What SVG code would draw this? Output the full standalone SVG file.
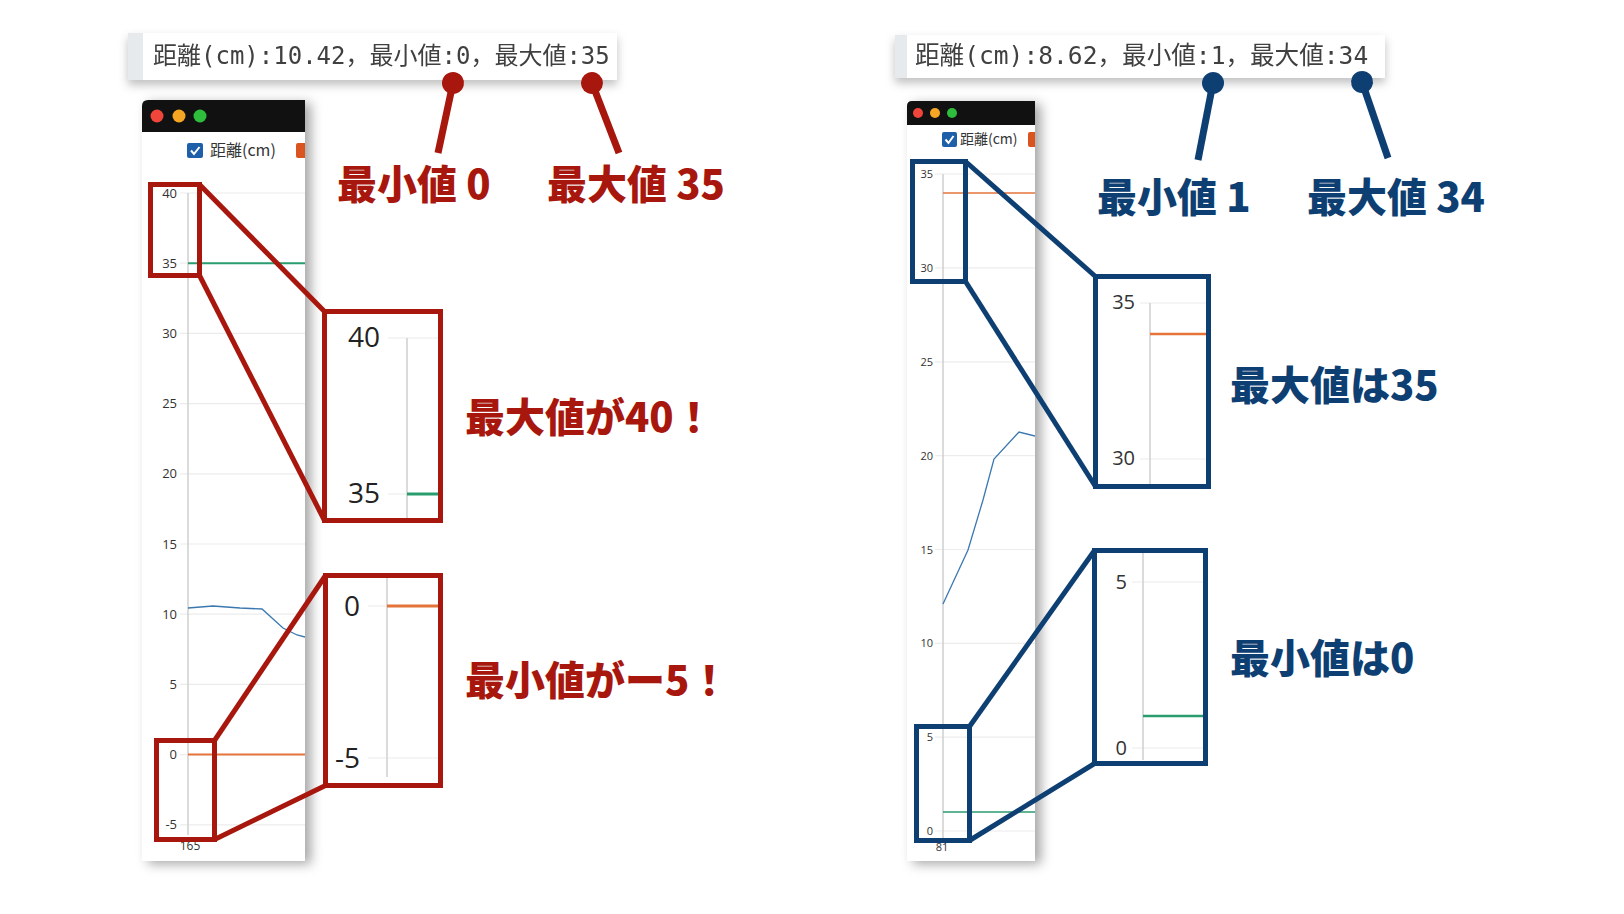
<svg xmlns="http://www.w3.org/2000/svg" width="1624" height="914" viewBox="0 0 1624 914">
<style>
.hdr{font-family:"DejaVu Sans Mono","Noto Sans CJK JP",monospace;font-size:24px;fill:#3f3f3f}
.tick{font-family:"Open Sans","Noto Sans",sans-serif;fill:#333;text-anchor:end}
.zt{font-family:"Open Sans","Noto Sans",sans-serif;fill:#222;text-anchor:end}
.leg{font-family:"Noto Sans CJK JP",sans-serif;fill:#333}
.big{font-family:"Noto Sans CJK JP",sans-serif;font-weight:900;font-size:40px}
.red{fill:#a8170d}
.blue{fill:#0e3f72}
.grid{stroke:#ececec;stroke-width:1.2}
.axis{stroke:#cfcfcf;stroke-width:1.5}
.rbox{fill:none;stroke:#a8170d;stroke-width:5}
.bbox{fill:none;stroke:#0e3f72;stroke-width:5}
.rline{stroke:#a8170d;stroke-width:5;fill:none}
.bline{stroke:#0e3f72;stroke-width:5;fill:none}
.rlead{stroke:#a8170d;stroke-width:7;fill:none;marker-start:url(#rdot)}
.blead{stroke:#0e3f72;stroke-width:7;fill:none;marker-start:url(#bdot)}
.green{stroke:#2a9d6f;fill:none}
.orange{stroke:#e4743a;fill:none}
.bluel{stroke:#3b78b0;stroke-width:1.3;fill:none}
</style>
<defs>
<filter id="sh" x="-20%" y="-5%" width="150%" height="115%">
<feDropShadow dx="6" dy="3" stdDeviation="6" flood-color="#000" flood-opacity="0.35"/>
</filter>
<filter id="hsh" x="-5%" y="-30%" width="110%" height="190%">
<feDropShadow dx="0" dy="5" stdDeviation="5" flood-color="#000" flood-opacity="0.25"/>
</filter>
<marker id="rdot" markerUnits="userSpaceOnUse" markerWidth="24" markerHeight="24" refX="12" refY="12" orient="auto">
<circle cx="12" cy="12" r="11" fill="#a8170d"/>
</marker>
<marker id="bdot" markerUnits="userSpaceOnUse" markerWidth="24" markerHeight="24" refX="12" refY="12" orient="auto">
<circle cx="12" cy="12" r="11" fill="#0e3f72"/>
</marker>
<clipPath id="cl"><rect x="142" y="100" width="163" height="761"/></clipPath>
<clipPath id="cr"><rect x="907" y="101" width="128" height="760"/></clipPath>
</defs>
<rect width="1624" height="914" fill="#fff"/>

<g id="header-left" filter="url(#hsh)">
<rect x="128" y="33" width="489" height="47" fill="#fff"/>
<rect x="128" y="33" width="15" height="47" fill="#e6eaed"/>
<text class="hdr" x="153" y="64">距離(cm):10.42，最小値:0，最大値:35</text>
</g>

<g id="header-right" filter="url(#hsh)">
<rect x="895" y="35" width="490" height="43" fill="#fff"/>
<rect x="895" y="35" width="12" height="43" fill="#e6eaed"/>
<text class="hdr" x="915" y="64" style="font-size:24.6px">距離(cm):8.62，最小値:1，最大値:34</text>
</g>

<g id="chart-left">
<rect x="142" y="100" width="163" height="761" fill="#fff" filter="url(#sh)"/>
<g clip-path="url(#cl)">
<path d="M142,132 V106 Q142,100 148,100 H305 V132 Z" fill="#111"/>
<circle cx="157" cy="116" r="6.5" fill="#f0453a"/>
<circle cx="179" cy="116" r="6.5" fill="#f5a623"/>
<circle cx="200" cy="116" r="6.5" fill="#2ebd3c"/>
<rect x="187" y="143" width="16" height="15" rx="2" fill="#1d5fa8"/>
<polyline points="191,150.5 194,154 199.5,147" stroke="#fff" stroke-width="2" fill="none"/>
<text class="leg" x="210" y="156" font-size="16">距離(cm)</text>
<rect x="296" y="143" width="16" height="15" rx="2" fill="#d9541e"/>
<g>
<line class="grid" x1="180" y1="193" x2="305" y2="193"/>
<line class="grid" x1="180" y1="263.2" x2="305" y2="263.2"/>
<line class="grid" x1="180" y1="333.4" x2="305" y2="333.4"/>
<line class="grid" x1="180" y1="403.6" x2="305" y2="403.6"/>
<line class="grid" x1="180" y1="473.8" x2="305" y2="473.8"/>
<line class="grid" x1="180" y1="544" x2="305" y2="544"/>
<line class="grid" x1="180" y1="614.2" x2="305" y2="614.2"/>
<line class="grid" x1="180" y1="684.4" x2="305" y2="684.4"/>
<line class="grid" x1="180" y1="754.6" x2="305" y2="754.6"/>
<line class="grid" x1="180" y1="824.8" x2="305" y2="824.8"/>
<line class="axis" x1="188" y1="193" x2="188" y2="835"/>
</g>
<g font-size="13">
<text class="tick" x="177" y="197.5">40</text>
<text class="tick" x="177" y="267.7">35</text>
<text class="tick" x="177" y="337.9">30</text>
<text class="tick" x="177" y="408.1">25</text>
<text class="tick" x="177" y="478.3">20</text>
<text class="tick" x="177" y="548.5">15</text>
<text class="tick" x="177" y="618.7">10</text>
<text class="tick" x="177" y="688.9">5</text>
<text class="tick" x="177" y="759.1">0</text>
<text class="tick" x="177" y="829.3">-5</text>
</g>
<text class="tick" x="190" y="850" font-size="12" style="text-anchor:middle">165</text>
<line class="green" x1="188" y1="263.2" x2="305" y2="263.2" stroke-width="2"/>
<line class="orange" x1="188" y1="754.6" x2="305" y2="754.6" stroke-width="2"/>
<polyline class="bluel" points="188,608 213,606 240,608 262,609 283,628 297,635 305,637"/>
</g>
</g>

<g id="chart-right">
<rect x="907" y="101" width="128" height="760" fill="#fff" filter="url(#sh)"/>
<g clip-path="url(#cr)">
<path d="M907,125 V106 Q907,101 912,101 H1035 V125 Z" fill="#111"/>
<circle cx="918" cy="113" r="5" fill="#f0453a"/>
<circle cx="935" cy="113" r="5" fill="#f5a623"/>
<circle cx="952" cy="113" r="5" fill="#2ebd3c"/>
<rect x="942" y="132" width="15" height="15" rx="2" fill="#1d5fa8"/>
<polyline points="945.5,139.5 948.5,143 953.5,136" stroke="#fff" stroke-width="2" fill="none"/>
<text class="leg" x="960" y="144" font-size="14">距離(cm)</text>
<rect x="1028" y="132" width="15" height="15" rx="2" fill="#d9541e"/>
<g>
<line class="grid" x1="935" y1="174" x2="1035" y2="174"/>
<line class="grid" x1="935" y1="267.9" x2="1035" y2="267.9"/>
<line class="grid" x1="935" y1="361.8" x2="1035" y2="361.8"/>
<line class="grid" x1="935" y1="455.6" x2="1035" y2="455.6"/>
<line class="grid" x1="935" y1="549.5" x2="1035" y2="549.5"/>
<line class="grid" x1="935" y1="643.3" x2="1035" y2="643.3"/>
<line class="grid" x1="935" y1="737.2" x2="1035" y2="737.2"/>
<line class="grid" x1="935" y1="831" x2="1035" y2="831"/>
<line class="axis" x1="943" y1="174" x2="943" y2="840"/>
</g>
<g font-size="11">
<text class="tick" x="933" y="178">35</text>
<text class="tick" x="933" y="271.9">30</text>
<text class="tick" x="933" y="365.8">25</text>
<text class="tick" x="933" y="459.6">20</text>
<text class="tick" x="933" y="553.5">15</text>
<text class="tick" x="933" y="647.3">10</text>
<text class="tick" x="933" y="741.2">5</text>
<text class="tick" x="933" y="835">0</text>
</g>
<text class="tick" x="942" y="851" font-size="11" style="text-anchor:middle">81</text>
<line class="orange" x1="943" y1="193" x2="1035" y2="193" stroke-width="1.5"/>
<line class="green" x1="943" y1="812" x2="1035" y2="812" stroke-width="1.5"/>
<polyline class="bluel" points="943,604 968,550 983,500 994,459 1019,432 1035,436"/>
</g>
</g>

<g id="labels-left">
<text class="big red" x="337" y="199">最小値 0</text>
<text class="big red" x="547" y="199">最大値 35</text>
<text class="big red" x="465" y="432">最大値が40！</text>
<text class="big red" x="465" y="695">最小値がー5！</text>
</g>

<g id="labels-right">
<text class="big blue" x="1097" y="212">最小値 1</text>
<text class="big blue" x="1307" y="212">最大値 34</text>
<text class="big blue" x="1230" y="400">最大値は35</text>
<text class="big blue" x="1230" y="673">最小値は0</text>
</g>

<g id="connectors">
<line class="rlead" x1="453" y1="83" x2="438" y2="153"/>
<line class="rlead" x1="592" y1="83" x2="619" y2="153"/>
<line class="blead" x1="1213" y1="83" x2="1198" y2="160"/>
<line class="blead" x1="1362" y1="82" x2="1388" y2="158"/>
<line class="rline" x1="199.5" y1="184.5" x2="324.5" y2="311.5"/>
<line class="rline" x1="199.5" y1="275.5" x2="324.5" y2="520.5"/>
<line class="rline" x1="214.5" y1="740.5" x2="325.5" y2="575.5"/>
<line class="rline" x1="214.5" y1="839.5" x2="325.5" y2="785.5"/>
<line class="bline" x1="965.5" y1="161.5" x2="1095.5" y2="276.5"/>
<line class="bline" x1="965.5" y1="281.5" x2="1095.5" y2="486.5"/>
<line class="bline" x1="969.5" y1="726.5" x2="1094.5" y2="550.5"/>
<line class="bline" x1="969.5" y1="840.5" x2="1094.5" y2="763.5"/>
</g>

<g id="zoom-left-top">
<rect class="rbox" x="150.5" y="184.5" width="49" height="91"/>
<rect x="324.5" y="311.5" width="116" height="209" fill="#fff"/>
<line class="grid" x1="388" y1="338" x2="440" y2="338" stroke-width="1.5"/>
<line class="grid" x1="388" y1="494" x2="440" y2="494" stroke-width="1.5"/>
<line class="axis" x1="407" y1="338" x2="407" y2="520" stroke-width="2"/>
<line class="green" x1="407" y1="494" x2="440" y2="494" stroke-width="3"/>
<text class="zt" x="380" y="347" font-size="28">40</text>
<text class="zt" x="380" y="503" font-size="28">35</text>
<rect class="rbox" x="324.5" y="311.5" width="116" height="209"/>
</g>

<g id="zoom-left-bottom">
<rect class="rbox" x="156.5" y="740.5" width="58" height="99"/>
<rect x="325.5" y="575.5" width="115" height="210" fill="#fff"/>
<line class="grid" x1="368" y1="606" x2="440" y2="606" stroke-width="1.5"/>
<line class="grid" x1="368" y1="758" x2="440" y2="758" stroke-width="1.5"/>
<line class="axis" x1="387" y1="578" x2="387" y2="777" stroke-width="2"/>
<line class="orange" x1="387" y1="606" x2="440" y2="606" stroke-width="3"/>
<text class="zt" x="360" y="616" font-size="28">0</text>
<text class="zt" x="360" y="768" font-size="28">-5</text>
<rect class="rbox" x="325.5" y="575.5" width="115" height="210"/>
</g>

<g id="zoom-right-top">
<rect class="bbox" x="912.5" y="161.5" width="53" height="120"/>
<rect x="1095.5" y="276.5" width="113" height="210" fill="#fff"/>
<line class="grid" x1="1140" y1="303" x2="1207" y2="303" stroke-width="1.5"/>
<line class="grid" x1="1140" y1="459" x2="1207" y2="459" stroke-width="1.5"/>
<line class="axis" x1="1150" y1="303" x2="1150" y2="487"/>
<line class="orange" x1="1150" y1="334" x2="1207" y2="334" stroke-width="2.5"/>
<text class="zt" x="1135" y="309" font-size="20" style="fill:#333">35</text>
<text class="zt" x="1135" y="465" font-size="20" style="fill:#333">30</text>
<rect class="bbox" x="1095.5" y="276.5" width="113" height="210"/>
</g>

<g id="zoom-right-bottom">
<rect class="bbox" x="916.5" y="726.5" width="53" height="114"/>
<rect x="1094.5" y="550.5" width="111" height="213" fill="#fff"/>
<line class="grid" x1="1132" y1="582" x2="1205" y2="582" stroke-width="1.5"/>
<line class="grid" x1="1132" y1="748" x2="1205" y2="748" stroke-width="1.5"/>
<line class="axis" x1="1143" y1="553" x2="1143" y2="760"/>
<line class="green" x1="1143" y1="716" x2="1205" y2="716" stroke-width="2.5"/>
<text class="zt" x="1127" y="589" font-size="20" style="fill:#333">5</text>
<text class="zt" x="1127" y="755" font-size="20" style="fill:#333">0</text>
<rect class="bbox" x="1094.5" y="550.5" width="111" height="213"/>
</g>
</svg>
